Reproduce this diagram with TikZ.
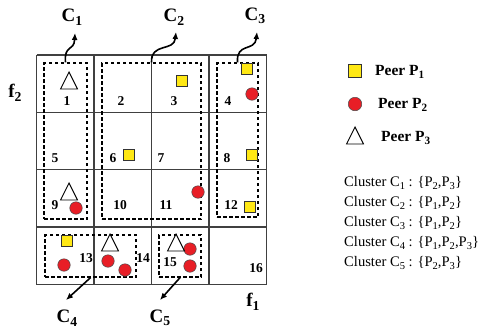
\documentclass[tikz,border=0pt]{standalone}
\usepackage{fontspec}
\setmainfont{Liberation Serif}
\usetikzlibrary{arrows.meta}
\definecolor{peeryellow}{RGB}{255,232,20}
\definecolor{peerred}{RGB}{232,30,38}
\newcommand{\lowsub}[1]{\raisebox{-0.4ex}{\scalebox{0.72}{#1}}}
\tikzset{
  gridline/.style={draw=black!75, line width=1.5pt},
  clusterbox/.style={draw=black, dashed, dash pattern=on 3.5pt off 2.5pt, line width=1.3pt, inner sep=0pt, fill=none},
  cellnum/.style={font=\bfseries\fontsize{13.5}{13.5}\selectfont, inner sep=0pt},
  clab/.style={font=\bfseries\fontsize{19}{19}\selectfont, inner sep=0pt},
  flab/.style={font=\bfseries\fontsize{19}{19}\selectfont, inner sep=0pt},
  peerA/.style={draw=black!80, fill=peeryellow, line width=0.8pt, minimum size=11.5pt, inner sep=0pt},
  peerB/.style={circle, draw=black!70, fill=peerred, line width=0.5pt, minimum size=12.5pt, inner sep=0pt},
  peerC/.style={draw=black, line width=0.9pt, fill=white},
  cArrow/.style={-{Latex[length=7pt,width=6pt]}, line width=1.6pt, black},
  legtext/.style={font=\bfseries\fontsize{15.5}{15.5}\selectfont, anchor=west, inner sep=0pt},
  cltext/.style={font=\fontsize{14.6}{14.6}\selectfont, anchor=west, inner sep=0pt},
}
\newcommand{\tri}[3]{\draw[peerC] (#1-8.5,#2+8) -- (#1+8.5,#2+8) -- (#1,#2-9) -- cycle;}
\begin{document}
\begin{tikzpicture}[x=1pt,y=-1pt]
\useasboundingbox (0,0) rectangle (498,333);
% grid
\foreach \x in {36.5,94,151.5,209,266.5} \draw[gridline] (\x,55) -- (\x,284.5);
\foreach \y in {55,112.5,169.5,227,284.5} \draw[gridline] (36.5,\y) -- (266.5,\y);
% cluster boxes
\node[clusterbox, minimum width=43pt, minimum height=156pt] (c1) at (65.5,141) {};
\node[clusterbox, minimum width=99pt, minimum height=156pt] (c2) at (151.5,141) {};
\node[clusterbox, minimum width=41pt, minimum height=154pt] (c3) at (237.5,140) {};
\node[clusterbox, minimum width=91pt, minimum height=42pt] (c4) at (90.5,256) {};
\node[clusterbox, minimum width=42pt, minimum height=42pt] (c5) at (180,256) {};
% cluster labels
\node[clab] (l1) at (72,17) {C\lowsub{1}};
\node[clab] (l2) at (174,17) {C\lowsub{2}};
\node[clab] (l3) at (255,16) {C\lowsub{3}};
\node[clab] (l4) at (67,318) {C\lowsub{4}};
\node[clab] (l5) at (160,318) {C\lowsub{5}};
\coordinate (e1) at (75,33);
\coordinate (e2) at (176,32);
\coordinate (e3) at (257,32);
\coordinate (e4) at (66,300);
\coordinate (e5) at (160,300);
\draw[cArrow] (c1.north) .. controls (64,44) and (74,52) .. (e1);
\draw[cArrow] (c2.north) .. controls (151,42) and (174,52) .. (e2);
\draw[cArrow] (c3.north) .. controls (236,42) and (255,52) .. (e3);
\draw[cArrow] (c4.south) -- (e4);
\draw[cArrow] (c5.south) -- (e5);
% axis labels
\node[flab] (f2) at (15,93) {f\lowsub{2}};
\node[flab] (f1) at (253,302) {f\lowsub{1}};
% cell numbers
\node[cellnum] (n1) at (67,101) {1};
\node[cellnum] (n2) at (121,101) {2};
\node[cellnum] (n3) at (174,101) {3};
\node[cellnum] (n4) at (228,101) {4};
\node[cellnum] (n5) at (55,158) {5};
\node[cellnum] (n6) at (113,158) {6};
\node[cellnum] (n7) at (161,158) {7};
\node[cellnum] (n8) at (227,158) {8};
\node[cellnum] (n9) at (55,205) {9};
\node[cellnum] (n10) at (120,205) {10};
\node[cellnum] (n11) at (166,205) {11};
\node[cellnum] (n12) at (231,205) {12};
\node[cellnum] (n13) at (86,258) {13};
\node[cellnum] (n14) at (143,258) {14};
\node[cellnum] (n15) at (170,262) {15};
\node[cellnum] (n16) at (256,268) {16};
% peers P1 (squares)
\node[peerA] (s3) at (182,81) {};
\node[peerA] (s4) at (247,69) {};
\node[peerA] (s6) at (129,155) {};
\node[peerA] (s8) at (252,155) {};
\node[peerA] (s12) at (250,207) {};
\node[peerA] (s13) at (67,241) {};
% peers P2 (circles)
\node[peerB] (r4) at (252,94) {};
\node[peerB] (r9) at (76,208) {};
\node[peerB] (r11) at (198,192) {};
\node[peerB] (r13) at (64,265) {};
\node[peerB] (r14a) at (108,261) {};
\node[peerB] (r14b) at (125,270) {};
\node[peerB] (r15a) at (190,249) {};
\node[peerB] (r15b) at (190,266) {};
% peers P3 (triangles)
\tri{69}{81}{}
\tri{69}{192}{}
\tri{110}{243}{}
\tri{176}{243}{}
% legend
\node[peerA, minimum size=12.5pt] (ls) at (355,71) {};
\node[legtext] (lt1) at (375,72) {Peer P\lowsub{1}};
\node[peerB, minimum size=13.5pt] (lc) at (355,104) {};
\node[legtext] (lt2) at (378,105) {Peer P\lowsub{2}};
\draw[peerC] (346.5,144) -- (363.5,144) -- (355,127) -- cycle;
\node[legtext] (lt3) at (381,138) {Peer P\lowsub{3}};
\node[cltext] (k1) at (344,183) {Cluster C\lowsub{1} : \{P\lowsub{2},P\lowsub{3}\}};
\node[cltext] (k2) at (344,203) {Cluster C\lowsub{2} : \{P\lowsub{1},P\lowsub{2}\}};
\node[cltext] (k3) at (344,223) {Cluster C\lowsub{3} : \{P\lowsub{1},P\lowsub{2}\}};
\node[cltext] (k4) at (344,243) {Cluster C\lowsub{4} : \{P\lowsub{1},P\lowsub{2},P\lowsub{3}\}};
\node[cltext] (k5) at (344,263) {Cluster C\lowsub{5} : \{P\lowsub{2},P\lowsub{3}\}};
\end{tikzpicture}
\end{document}
